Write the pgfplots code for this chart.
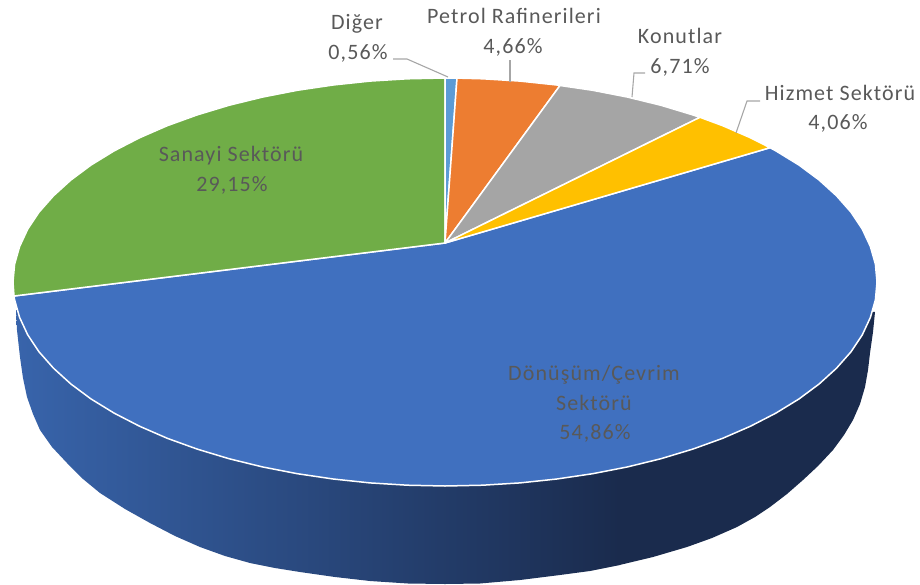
\documentclass[border=0pt]{standalone}
\usepackage{pgfplots}
\pgfplotsset{compat=1.18}
\usepackage{fontspec}
\setmainfont[LetterSpace=5]{Carlito}
\definecolor{cGreen}{HTML}{70AD47}
\definecolor{cBlue}{HTML}{4070BF}
\definecolor{cOrange}{HTML}{ED7D31}
\definecolor{cGray}{HTML}{A5A5A5}
\definecolor{cYellow}{HTML}{FFC000}
\definecolor{cLight}{HTML}{5B9BD5}
\definecolor{cText}{HTML}{595959}
\definecolor{cLine}{HTML}{A6A6A6}
\definecolor{cSideL}{HTML}{3864AB}
\definecolor{cSideR}{HTML}{1A2B4D}
\tikzset{
  lab/.style={font=\fontsize{22}{26}\selectfont, text=cText, anchor=base, inner sep=0pt},
  wedge/.style={draw=white, line width=1.5pt, line join=round},
}
\begin{document}
\begin{tikzpicture}
\begin{axis}[
  hide axis, scale only axis, width=920pt, height=584pt,
  xmin=0, xmax=920, ymin=0, ymax=584, y dir=reverse,
]
\path (axis cs:0,0) rectangle (axis cs:920,584);
% side
\addplot[left color=cSideL, right color=cSideR, draw=none] coordinates {
(16,310)(17,330)(20,357)(23,378)(27,397)(33,414)(40,430)(52,447)(67,463)(83,479)(100,493)(125,509)(150,523)(175,536)(200,547)(225,556)(250,563)(275,568)(300,572)(335,577)(370,581)(408,583.5)(445,584)(480,583.5)(520,580)(560,575)(590,571)(620,565)(620,400)} -- cycle;
\addplot[fill=cSideR, draw=none] coordinates {
(619.5,565)(653,557)(687,547)(712,538)(737,527)(755,517)(770,507)(787,494)(803,480)(818,466)(833,450)(844,435)(853,420)(860,404)(865,387)(868,370)(870,353)(873,332)(875,312)(700,300)(619.5,400)} -- cycle;
% blue
\addplot[fill=cBlue, wedge] coordinates {
(445,243)(770,147.7)(775.9,150.9)(798.9,165)(819.1,180)(836.5,195.8)(851,212.2)(862.3,229.2)(870.4,246.6)(875.4,264.2)(877,282)(875.4,299.8)(870.4,317.4)(862.3,334.8)(851,351.8)(836.5,368.2)(819.1,384)(798.9,399)(775.9,413.1)(750.5,426.2)(722.7,438.3)(692.8,449.1)(661,458.7)(627.6,466.9)(592.7,473.7)(556.8,479)(520,482.9)(482.7,485.2)(445,486)(407.3,485.2)(370,482.9)(333.2,479)(297.3,473.7)(262.4,466.9)(229,458.7)(197.2,449.1)(167.3,438.3)(139.5,426.2)(114.1,413.1)(91.1,399)(70.9,384)(53.5,368.2)(39,351.8)(27.7,334.8)(19.6,317.4)(14.6,299.8)(14,296)} -- cycle;
% green
\addplot[fill=cGreen, wedge] coordinates {
(445,243)(14,296)(13,282)(14.6,264.2)(19.6,246.6)(27.7,229.2)(39,212.2)(53.5,195.8)(70.9,180)(91.1,165)(114.1,150.9)(139.5,137.8)(167.3,125.7)(197.2,114.9)(229,105.3)(262.4,97.1)(297.3,90.3)(333.2,85)(370,81.1)(407.3,78.8)(445,78)} -- cycle;
% light blue
\addplot[fill=cLight, wedge] coordinates {(445,243)(445,78)(457,78.1)} -- cycle;
% orange
\addplot[fill=cOrange, wedge] coordinates {(445,243)(457,78.1)(482.7,78.8)(520,81.1)(556.8,85)(560,85.5)} -- cycle;
% gray
\addplot[fill=cGray, wedge] coordinates {(445,243)(560,85.5)(592.7,90.3)(627.6,97.1)(661,105.3)(692.8,114.9)(700,117.3)} -- cycle;
% yellow
\addplot[fill=cYellow, wedge] coordinates {(445,243)(700,117.3)(722.7,125.7)(750.5,137.8)(770,147.7)} -- cycle;
% leaders
\addplot[cLine, line width=1.1pt] coordinates {(393,59)(407,59)(448,77)};
\addplot[cLine, line width=1.1pt] coordinates {(510,60)(510,82)};
\addplot[cLine, line width=1.1pt] coordinates {(645,73)(634,73)(632,97)};
\addplot[cLine, line width=1.1pt] coordinates {(760,101)(747,101)(736,133)};
% labels
\node[lab] at (axis cs:357,29) {Diğer};
\node[lab] at (axis cs:358,59) {0,56\%};
\node[lab] at (axis cs:514,23) {Petrol Rafinerileri};
\node[lab] at (axis cs:513,53) {4,66\%};
\node[lab] at (axis cs:680,43) {Konutlar};
\node[lab] at (axis cs:680,73) {6,71\%};
\node[lab] at (axis cs:840,100) {Hizmet Sektörü};
\node[lab] at (axis cs:838,129) {4,06\%};
\node[lab] at (axis cs:231,161) {Sanayi Sektörü};
\node[lab] at (axis cs:232,191) {29,15\%};
\node[lab] at (axis cs:594,380) {Dönüşüm/Çevrim};
\node[lab] at (axis cs:594,410) {Sektörü};
\node[lab] at (axis cs:595,439) {54,86\%};
\end{axis}
\end{tikzpicture}
\end{document}
